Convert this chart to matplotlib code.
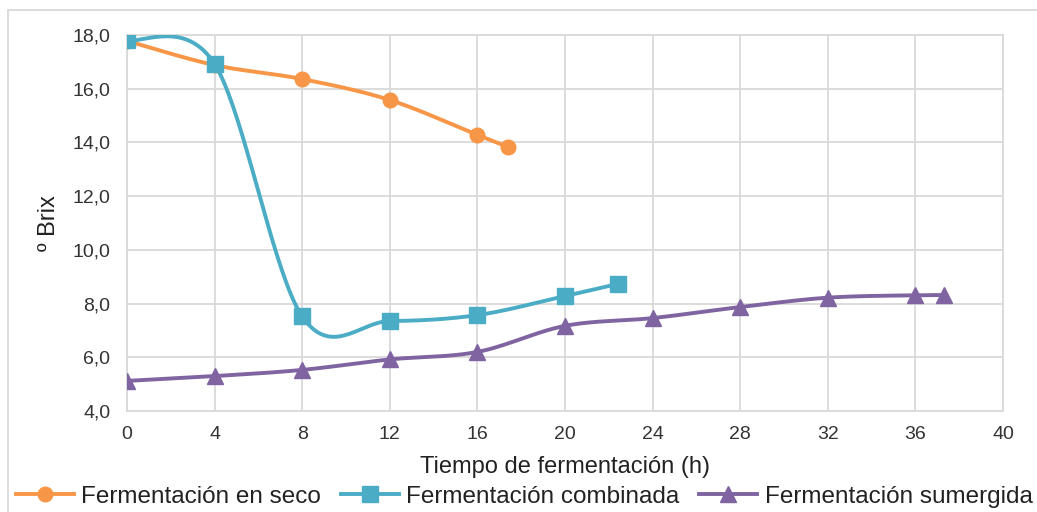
import numpy as np
import matplotlib.pyplot as plt
from matplotlib.lines import Line2D
from matplotlib.patches import Rectangle

plt.rcParams['font.family'] = ['Liberation Sans', 'DejaVu Sans']

# tiempo (h) y grados Brix de cada tipo de fermentación
t_seco = [0, 4, 8, 12, 16, 17.4]
brix_seco = [17.78, 16.88, 16.36, 15.58, 14.28, 13.83]

t_comb = [0, 4, 8, 12, 16, 20, 22.4]
brix_comb = [17.81, 16.92, 7.52, 7.35, 7.57, 8.28, 8.73]

t_sum = [0, 4, 8, 12, 16, 20, 24, 28, 32, 36, 37.3]
brix_sum = [5.12, 5.3, 5.53, 5.92, 6.2, 7.17, 7.46, 7.87, 8.22, 8.31, 8.32]

labels = ['Fermentación en seco', 'Fermentación combinada', 'Fermentación sumergida']
colors = ['#F79646', '#4BACC6', '#8064A2']
markers = ['o', 's', '^']
msizes = [10.5, 11, 11]

xticks = np.arange(0, 41, 4)
yticks = np.arange(4, 18.1, 2)


def suavizar(x, y, n=40):
    # curva bezier tipo "línea suavizada" de Excel
    p = np.column_stack([x, y]).astype(float)
    ext = np.vstack([p[0], p, p[-1]])
    pts = []
    for i in range(len(p) - 1):
        p0, p1 = ext[i + 1], ext[i + 2]
        c1 = p0 + (ext[i + 2] - ext[i]) / 6
        c2 = p1 - (ext[i + 3] - ext[i + 1]) / 6
        s = np.linspace(0, 1, n)[:, None]
        seg = ((1 - s) ** 3) * p0 + 3 * ((1 - s) ** 2) * s * c1 + 3 * (1 - s) * s ** 2 * c2 + s ** 3 * p1
        pts.append(seg if i == 0 else seg[1:])
    pts = np.vstack(pts)
    return pts[:, 0], pts[:, 1]


fig = plt.figure(figsize=(10.37, 5.12), dpi=100)
ax = fig.add_axes([127 / 1037, 1 - 411 / 512, 876 / 1037, 376 / 512])

series = [(t_seco, brix_seco), (t_comb, brix_comb), (t_sum, brix_sum)]
handles = []
for (x, y), lab, c, m, ms in zip(series, labels, colors, markers, msizes):
    xs, ys = suavizar(x, y)
    ax.plot(xs, ys, color=c, lw=2.8, zorder=3, solid_capstyle='round')
    ax.plot(x, y, ls='none', marker=m, ms=ms, color=c, zorder=4)
    handles.append(Line2D([], [], color=c, lw=2.8, marker=m, ms=ms))

ax.set_xlim(0, 40)
ax.set_ylim(4, 18)
ax.set_xticks(xticks)
ax.set_yticks(yticks)
ax.set_yticklabels([f'{v:.1f}'.replace('.', ',') for v in yticks])
ax.grid(True, color='#D9D9D9', lw=1.3)
ax.set_axisbelow(True)
for s in ax.spines.values():
    s.set_color('#D9D9D9')
    s.set_linewidth(1.3)
ax.tick_params(length=0, labelsize=14, colors='#333333')
ax.tick_params(axis='y', pad=12)
ax.tick_params(axis='x', pad=11)

ax.set_xlabel('Tiempo de fermentación (h)', fontsize=17, color='#222222', labelpad=9)
ax.set_ylabel('º Brix', fontsize=17, color='#222222', labelpad=9)

fig.legend(handles, labels, loc='center', bbox_to_anchor=(524 / 1037, 0.03),
           ncol=3, frameon=False, fontsize=17.5, handlelength=2.4,
           handletextpad=0.3, columnspacing=0.8, labelcolor='#222222')

fig.patches.append(Rectangle((8 / 1037, -0.1), 1.2, 1.1 - 10 / 512, transform=fig.transFigure,
                             fill=False, edgecolor='#D9D9D9', lw=1.3))

fig.savefig('out.png', dpi=100)
